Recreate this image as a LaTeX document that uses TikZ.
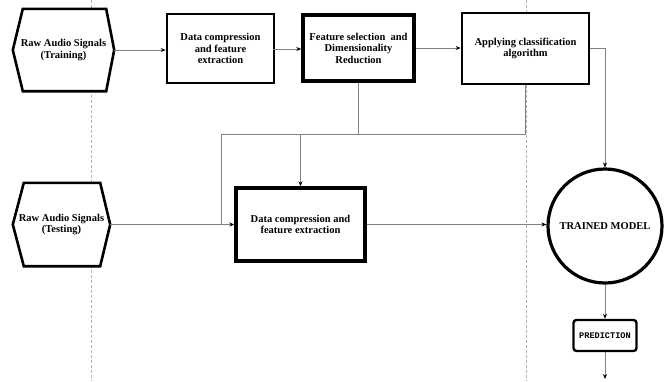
\documentclass[tikz,border=0pt]{standalone}
\usepackage{fontspec}
\setmainfont{Liberation Serif}
\setmonofont{Liberation Mono}
\usetikzlibrary{arrows.meta,calc}
\begin{document}
\begin{tikzpicture}[x=1pt,y=-1pt,
  every node/.style={font=\bfseries\fontsize{10.5}{11.5}\selectfont, align=center, inner sep=0pt},
  procbox/.style={draw=black, fill=white, line width=2.6pt, minimum width=#1},
  hexbox/.style={draw=none},
  hexline/.style={draw=black, fill=white, line width=2.6pt, line join=miter},
  conn/.style={draw=black!50, line width=0.8pt},
  arr/.style={conn, -{Stealth[length=5pt,width=4pt,black]}},
  guide/.style={draw=black!30, line width=0.6pt, dash pattern=on 3pt off 2pt}
]
\useasboundingbox (0,0) rectangle (665,381);
\fill[white] (0,0) rectangle (665,381);
% guide lines
\coordinate (g1t) at (91,0); \coordinate (g1b) at (91,381);
\coordinate (g2t) at (526,0); \coordinate (g2b) at (526,381);
\draw[guide] (g1t) -- (g1b);
\draw[guide] (g2t) -- (g2b);

% hexagons
\node[hexbox, minimum width=101pt, minimum height=82pt] (h1) at (63.5,50) {};
\draw[hexline] (h1.west) -- ($(h1.north west)+(10,0)$) -- ($(h1.north east)+(-8,0)$) -- (h1.east) -- ($(h1.south east)+(-8,0)$) -- ($(h1.south west)+(10,0)$) -- cycle;
\node at (h1.center) {Raw Audio Signals\\(Training)};

\node[hexbox, minimum width=97pt, minimum height=83pt] (h2) at (61.5,224.5) {};
\draw[hexline] (h2.west) -- ($(h2.north west)+(11,0)$) -- ($(h2.north east)+(-10,0)$) -- (h2.east) -- ($(h2.south east)+(-10,0)$) -- ($(h2.south west)+(11,0)$) -- cycle;
\node at (h2.center) {Raw Audio Signals\\(Testing)};

% boxes
\node[procbox=107pt, minimum height=69pt] (b1) at (220.5,48.5) {Data compression\\and feature\\extraction};
\node[procbox=111pt, minimum height=66pt, line width=3.4pt] (b2) at (358.5,48) {Feature selection\ \ and\\Dimensionality\\Reduction};
\node[procbox=127pt, minimum height=71pt] (b3) at (525.5,48.5) {Applying classification\\algorithm};
\node[procbox=129pt, minimum height=73pt, line width=3.4pt] (b4) at (300.5,224.5) {Data compression and\\feature extraction};
\node[circle, draw=black, fill=white, line width=3.2pt, minimum size=114pt] (c) at (605,226) {TRAINED MODEL};
\node[draw=black, fill=white, rounded corners=3pt, line width=2.4pt, minimum width=63pt, minimum height=31pt, font=\ttfamily\bfseries\fontsize{8.6}{10}\selectfont] (p) at (605,335.5) {PREDICTION};
\coordinate (pend) at (605,379);

% connectors
\coordinate (j1) at (221,134);
\coordinate (j2) at (221,224.5);
\draw[arr] (h1.east) -- (h1.east -| b1.west);
\draw[arr] (b1.west |- 0,49) ++(107,0) coordinate (b1e) -- (b1e -| b2.west);
\draw[arr] (b2.east) -- (b2.east -| b3.west);
\draw[arr] (b3.east) -| (c.north);
\draw[conn] (b2.south) -- (b2.south |- j1) -- (j1) -- (j2);
\draw[arr] (b3.south) -- (b3.south |- j1) -| (b4.north);
\draw[arr] (h2.east) -- (h2.east -| b4.west);
\draw[arr] (b4.east) -- (b4.east -| c.west);
\draw[arr] (c.south) -- (p.north);
\draw[arr] (p.south) -- (pend);
\end{tikzpicture}
\end{document}
